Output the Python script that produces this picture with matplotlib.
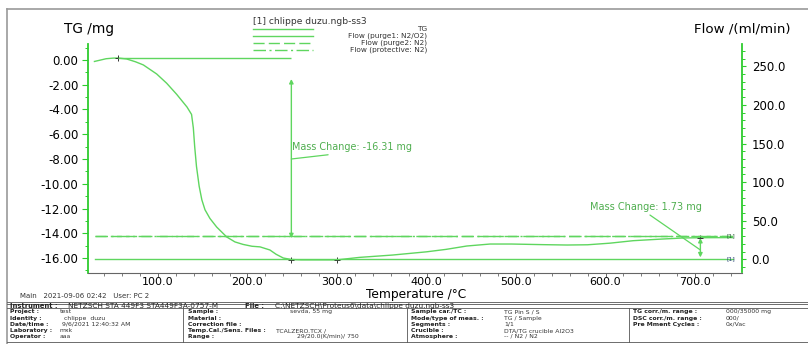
import matplotlib.pyplot as plt
from matplotlib.lines import Line2D
from matplotlib.ticker import MultipleLocator, FormatStrFormatter

plt.rcParams['font.family'] = ['DejaVu Sans']
plt.rcParams['axes.unicode_minus'] = False

# TG curve (temperature in degC, mass in mg)
temp = [29, 35, 42, 50, 55, 65, 75, 83.6, 98.5, 109.7,
        120.8, 132.4, 137.5, 139.5, 141, 143, 146, 149, 152.5, 158,
        165.6, 176.8, 186, 195, 205, 214, 225, 232, 240, 249,
        260, 280, 300, 325, 362, 400, 422, 445, 471, 495,
        530, 557, 580, 605, 631, 660, 687, 706, 742]
tg = [-0.12, -0.02, 0.1, 0.15, 0.16, 0.08, -0.15, -0.4, -1.13, -1.88,
      -2.77, -3.8, -4.4, -5.5, -7.0, -8.6, -10.2, -11.3, -12.1, -12.8,
      -13.5, -14.3, -14.7, -14.9, -15.05, -15.1, -15.35, -15.7, -16.0, -16.12,
      -16.15, -16.15, -16.15, -15.95, -15.76, -15.5, -15.3, -15.03, -14.87, -14.87,
      -14.92, -14.95, -14.93, -14.8, -14.6, -14.48, -14.38, -14.36, -14.35]

# gas flows (ml/min)
flow_temp = [29.6, 742]
purge1 = [0, 0]
purge2 = [30, 30]
protective = [30, 30]

# evaluation points
step1_temp = [55, 249]
step1_tg = [0.16, -16.12]
step2_temp = [300, 706]
step2_tg = [-16.15, -14.38]
mass_change = [-16.31, 1.73]

legend_title = "[1] chlippe duzu.ngb-ss3"
legend_names = ["TG", "Flow (purge1: N2/O2)", "Flow (purge2: N2)", "Flow (protective: N2)"]

main_line = "Main   2021-09-06 02:42   User: PC 2"
instrument_row = ["Instrument :", "NETZSCH STA 449F3 STA449F3A-0757-M", "File :",
                  "C:\\NETZSCH\\Proteus6\\data\\chlippe duzu.ngb-ss3"]
col1_labels = ["Project :", "Identity :", "Date/time :", "Laboratory :", "Operator :"]
col1_values = ["test", " chlippe  duzu", "9/6/2021 12:40:32 AM", "mxk", "aaa"]
col2_labels = ["Sample :", "Material :", "Correction file :", "Temp.Cal./Sens. Files :", "Range :"]
col2_values = ["sevda, 55 mg", "", "", "TCALZERO.TCX /", "29/20.0(K/min)/ 750"]
col3_labels = ["Sample car./TC :", "Mode/type of meas. :", "Segments :", "Crucible :", "Atmosphere :"]
col3_values = ["TG Pin S / S", "TG / Sample", "1/1", "DTA/TG crucible Al2O3", "-- / N2 / N2"]
col4_labels = ["TG corr./m. range :", "DSC corr./m. range :", "Pre Mment Cycles :"]
col4_values = ["000/35000 mg", "000/", "0x/Vac"]

W, H = 808, 344
curve_green = '#5fd65f'
axis_green = '#2ecc2e'
note_green = '#4fae4f'
dash_purge2 = (8, 3)
dash_protective = (9, 2.5, 1.5, 2.5)


def fx(px):
    return px / W


def fy(py):
    return 1 - py / H


fig = plt.figure(figsize=(W / 100, H / 100), dpi=100)
ax = fig.add_axes([fx(88), fy(272.5), (742 - 88) / W, (272.5 - 44) / H])
ax2 = ax.twinx()

ax.set_xlim(21.8, 752.5)
ax.set_ylim(-17.17, 1.29)
ax2.set_ylim(-17.1, 278.9)

tg_line, = ax.plot(temp, tg, color=curve_green, lw=1.0)
p1_line, = ax2.plot(flow_temp, purge1, color=curve_green, lw=1.0)
p2_line, = ax2.plot(flow_temp, purge2, color=curve_green, lw=1.0, dashes=dash_purge2)
pr_line, = ax2.plot(flow_temp, protective, color=curve_green, lw=1.0, dashes=dash_protective)

# evaluation markers
ax.plot(step1_temp + step2_temp, step1_tg + step2_tg, '+', color='#333333', ms=5, mew=0.7)

# step 1: reference line, arrow, text
ax.hlines(step1_tg[0], step1_temp[0], step1_temp[1], color=curve_green, lw=1.0)
ax.annotate('', xy=(step1_temp[1], -1.54), xytext=(step1_temp[1], -14.4),
            arrowprops=dict(arrowstyle='<|-|>', color=curve_green, lw=1.0,
                            mutation_scale=6, shrinkA=0, shrinkB=0))
ax.annotate(f"Mass Change: {mass_change[0]:.2f} mg", xy=(step1_temp[1], -8.0), xytext=(step1_temp[1] + 1, -7.03),
            color=note_green, fontsize=6.9, va='center', ha='left',
            arrowprops=dict(arrowstyle='-', color=curve_green, lw=0.9,
                            shrinkA=0, shrinkB=0, relpos=(0.5, 0)))

# step 2
ax.annotate('', xy=(step2_temp[1], step2_tg[1]), xytext=(step2_temp[1], -15.95),
            arrowprops=dict(arrowstyle='<|-|>', color=curve_green, lw=1.0,
                            mutation_scale=6, shrinkA=0, shrinkB=0))
ax.annotate(f"Mass Change: {mass_change[1]:.2f} mg", xy=(step2_temp[1], -15.35), xytext=(582.7, -11.9),
            color=note_green, fontsize=7, va='center', ha='left',
            arrowprops=dict(arrowstyle='-', color=curve_green, lw=0.9,
                            shrinkA=0, shrinkB=0, relpos=(0.5, 0)))

# curve tags at the right end
ax2.text(740, purge2[1], '[1]', fontsize=4.5, color='#2d5a3a', ha='center', va='center')
ax2.text(740, purge1[1], '[1]', fontsize=4.5, color='#2b3f7a', ha='center', va='center')

# axes styling
ax.spines['top'].set_visible(False)
ax2.spines['top'].set_visible(False)
ax.spines['right'].set_visible(False)
ax2.spines['left'].set_visible(False)
ax2.spines['bottom'].set_visible(False)
ax.spines['left'].set_color(axis_green)
ax.spines['left'].set_linewidth(1.3)
ax2.spines['right'].set_color(axis_green)
ax2.spines['right'].set_linewidth(1.3)
ax.spines['bottom'].set_color('#666666')
ax.spines['bottom'].set_linewidth(0.8)

ax.xaxis.set_major_locator(MultipleLocator(100))
ax.xaxis.set_minor_locator(MultipleLocator(20))
ax.xaxis.set_major_formatter(FormatStrFormatter('%.1f'))
ax.yaxis.set_major_locator(MultipleLocator(2))
ax.yaxis.set_minor_locator(MultipleLocator(1))
ax.yaxis.set_major_formatter(FormatStrFormatter('%.2f'))
ax2.yaxis.set_major_locator(MultipleLocator(50))
ax2.yaxis.set_minor_locator(MultipleLocator(10))
ax2.yaxis.set_major_formatter(FormatStrFormatter('%.1f'))

ax.tick_params(axis='x', which='major', length=3, width=0.7, color='#666666', labelsize=8, pad=0.5)
ax.tick_params(axis='x', which='minor', length=2, width=0.6, color='#666666')
ax.tick_params(axis='y', which='major', length=4, width=0.8, color=axis_green, labelsize=8.5, pad=3)
ax.tick_params(axis='y', which='minor', length=2, width=0.7, color=axis_green)
ax2.tick_params(axis='y', which='major', length=3, width=0.8, color=axis_green, labelsize=8.5, pad=4)
ax2.tick_params(axis='y', which='minor', length=2, width=0.7, color=axis_green)

ax.set_xlabel("Temperature /\u00b0C", fontsize=8.8)
ax.xaxis.label.set_va('center')
ax.xaxis.set_label_coords(0.502, -0.098)
ax.text(0.001, 1.064, "TG /mg", transform=ax.transAxes, fontsize=9.8, ha='center', va='center')
ax.text(1.001, 1.064, "Flow /(ml/min)", transform=ax.transAxes, fontsize=9.6, ha='center', va='center')

# legend block
fig.text(fx(253), fy(21.5), legend_title, fontsize=6.6, color='#333333', ha='left', va='center')
leg_rows = [29.3, 35.8, 42.7, 50]
leg_dashes = [None, None, dash_purge2, dash_protective]
for row, name, src, dsh in zip(leg_rows, legend_names, [tg_line, p1_line, p2_line, pr_line], leg_dashes):
    ln = Line2D([fx(253), fx(313)], [fy(row), fy(row)], transform=fig.transFigure,
                color=src.get_color(), lw=1.0)
    if dsh is not None:
        ln.set_dashes(dsh)
    fig.add_artist(ln)
    fig.text(fx(427), fy(row), name, fontsize=5.3, color='#333333', ha='right', va='center')


def fline(x0, x1, y0, y1, color='#888888', lw=0.8):
    fig.add_artist(Line2D([fx(x0), fx(x1)], [fy(y0), fy(y1)], transform=fig.transFigure,
                          color=color, lw=lw))


# outer frame
fline(7, 808, 9, 9, color='#9a9a9a', lw=1.2)
fline(7, 7, 9, 344, color='#9a9a9a', lw=1.2)

# info table
fig.text(fx(20), fy(295.7), main_line, fontsize=5.0, color='#333333', va='center')
fline(7, 808, 301.7, 301.7, color='#555555', lw=0.6)
fline(7, 808, 303.7, 303.7, color='#555555', lw=0.6)
fline(7, 808, 308.3, 308.3, color='#555555', lw=0.6)
fline(7, 808, 341.7, 341.7, color='#555555', lw=0.6)
for cx in [182.7, 406.7, 629]:
    fline(cx, cx, 308.3, 341.7, color='#555555', lw=0.6)

tsize = 4.4
for txt, x, bold in zip(instrument_row, [10, 68, 245, 275], [True, False, True, False]):
    fig.text(fx(x), fy(305.9), txt, fontsize=4.9 if bold else 5.3, color='#222222', va='center',
             fontweight='bold' if bold else 'normal')

rows_y = [311.7, 318.3, 324.3, 330.7, 336.3]
col_layout = [
    (col1_labels, col1_values, 10, [60, 62, 62, 60, 60]),
    (col2_labels, col2_values, 188, [290, 290, 290, 276, 297]),
    (col3_labels, col3_values, 411, [504] * 5),
    (col4_labels, col4_values, 633, [726] * 5),
]
for labels, values, lx, vxs in col_layout:
    for i, (lab, val) in enumerate(zip(labels, values)):
        fig.text(fx(lx), fy(rows_y[i]), lab, fontsize=tsize, color='#222222',
                 fontweight='bold', va='center')
        if val:
            fig.text(fx(vxs[i]), fy(rows_y[i]), val, fontsize=tsize, color='#333333', va='center')

fig.savefig('out.png', dpi=100)
